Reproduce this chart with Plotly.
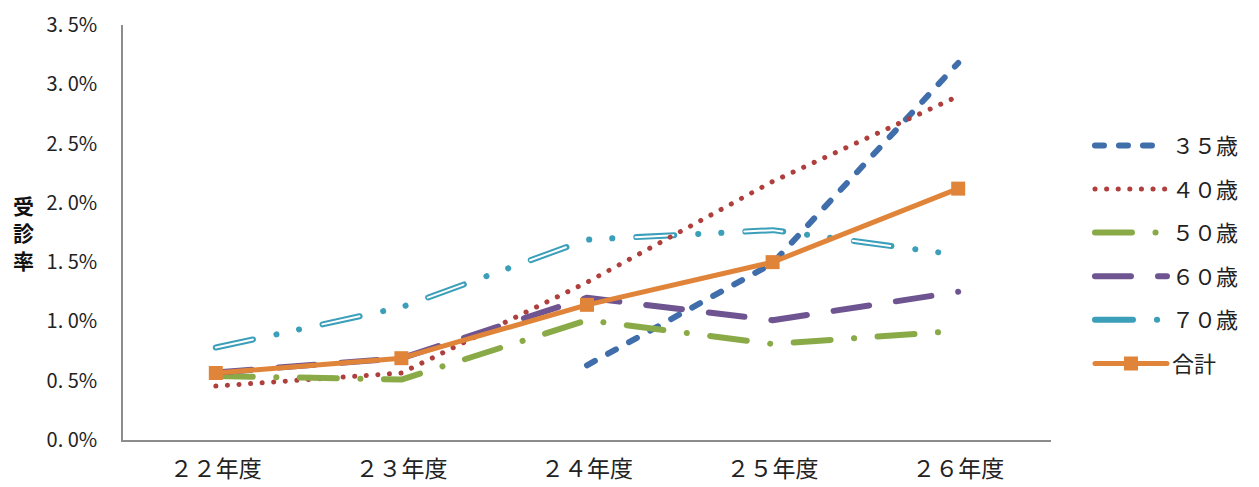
import plotly.graph_objects as go

# 受診率 (%) by fiscal year and age group
years = ["２２年度", "２３年度", "２４年度", "２５年度", "２６年度"]
age35 = [None, None, 0.63, 1.49, 3.18]
age40 = [0.455, 0.565, 1.33, 2.18, 2.90]
age50 = [0.54, 0.51, 1.01, 0.81, 0.92]
age60 = [0.57, 0.69, 1.20, 1.01, 1.25]
age70 = [0.78, 1.12, 1.69, 1.77, 1.56]
total = [0.565, 0.69, 1.14, 1.50, 2.12]

y_tickvals = [0, 0.5, 1.0, 1.5, 2.0, 2.5, 3.0, 3.5]
y_ticktext = ["0. 0%", "0. 5%", "1. 0%", "1. 5%", "2. 0%", "2. 5%", "3. 0%", "3. 5%"]

FONT = "Noto Sans CJK JP"

fig = go.Figure()

# 70歳: double line (teal outline with white core), long dash - dot - dot
fig.add_trace(go.Scatter(
    x=years, y=age70, name="７０歳", mode="lines", legendrank=5, legendgroup="g5",
    line=dict(color="#3B9FBA", width=6, dash="38px,24px,0.1px,23px,0.1px,24px"),
))
fig.add_trace(go.Scatter(
    x=years, y=age70, mode="lines", showlegend=False, hoverinfo="skip",
    line=dict(color="white", width=2, dash="38px,71px"),
))

fig.add_trace(go.Scatter(
    x=years, y=age35, name="３５歳", mode="lines", legendrank=1, legendgroup="g1",
    line=dict(color="#3F6EAB", width=6, dash="9px,15px"),
))
fig.add_trace(go.Scatter(
    x=years, y=age40, name="４０歳", mode="lines", legendrank=2, legendgroup="g2",
    line=dict(color="#AE3F3C", width=5, dash="0.1px,11.5px"),
))
fig.add_trace(go.Scatter(
    x=years, y=age50, name="５０歳", mode="lines", legendrank=3, legendgroup="g3",
    line=dict(color="#8AAA47", width=6, dash="37px,23.5px,0.1px,23.5px"),
))
fig.add_trace(go.Scatter(
    x=years, y=age60, name="６０歳", mode="lines", legendrank=4, legendgroup="g4",
    line=dict(color="#6E5490", width=6, dash="36px,27px"),
))
fig.add_trace(go.Scatter(
    x=years, y=total, name="合計", mode="lines+markers", legendrank=6, legendgroup="g6",
    line=dict(color="#E0843A", width=5),
    marker=dict(symbol="square", size=14, color="#E0843A"),
))

fig.update_layout(
    width=1259, height=487,
    margin=dict(l=123, r=208, t=25, b=47),
    paper_bgcolor="white", plot_bgcolor="white",
    font=dict(family=FONT, color="#222222"),
    showlegend=True,
    legend=dict(
        x=1.042, y=0.76, xanchor="left", yanchor="top",
        font=dict(family=FONT, size=22, color="#222222"),
        traceorder="grouped", tracegroupgap=12, itemwidth=72,
        bgcolor="rgba(0,0,0,0)",
    ),
    annotations=[dict(
        text="<b>受<br>診<br>率</b>", x=-0.107, y=0.5, xref="paper", yref="paper",
        showarrow=False, font=dict(family=FONT, size=21, color="#111111"),
        xanchor="center", yanchor="middle",
    )],
)

fig.update_xaxes(
    type="category", range=[-0.5, 4.5], showgrid=False, showline=True,
    linecolor="#8C8C8C", linewidth=1.5, automargin=False,
    ticks="", tickfont=dict(family=FONT, size=23, color="#222222"), ticklabelstandoff=8,
    zeroline=False,
)
fig.update_yaxes(
    range=[0, 3.5], tickvals=y_tickvals, ticktext=y_ticktext, showgrid=False,
    showline=True, linecolor="#8C8C8C", linewidth=1.5, ticks="", zeroline=False,
    automargin=False,
    tickfont=dict(family=FONT, size=20, color="#222222"), ticklabelstandoff=20,
)

# Round line caps so dotted/dashed strokes end in rounded segments
round_caps = (
    "var s=document.createElement('style');"
    "s.textContent='.js-line{stroke-linecap:round;stroke-linejoin:round}';"
    "document.head.appendChild(s);"
)
fig.write_html("out.html", post_script=round_caps)
